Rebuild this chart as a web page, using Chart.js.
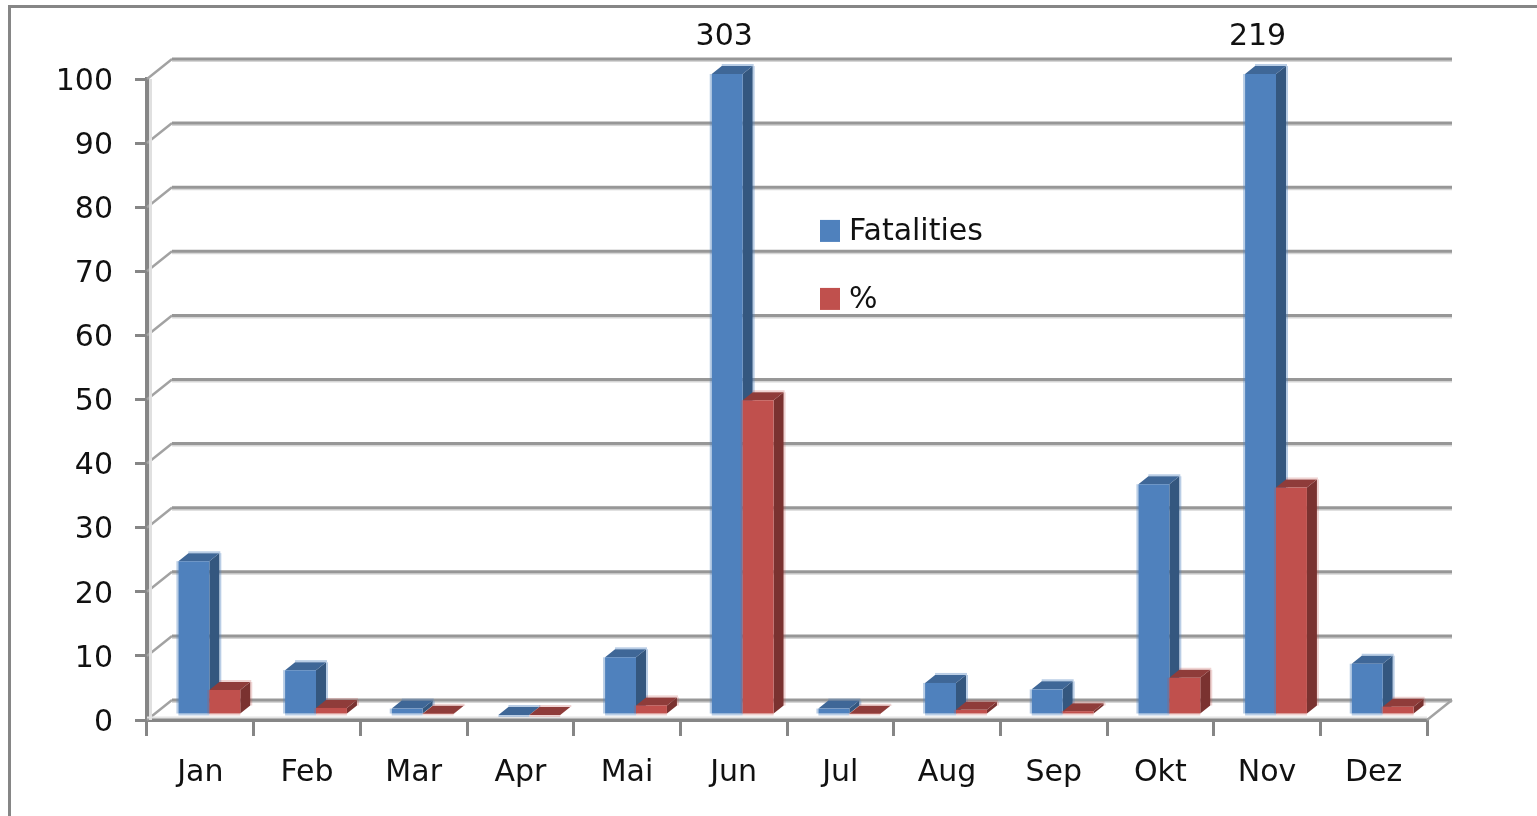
<!DOCTYPE html>
<html>
<head>
<meta charset="utf-8">
<title>Fatalities</title>
<script src="https://cdn.jsdelivr.net/npm/chart.js@4"></script>
<style>
    html, body { margin: 0; background: #fff; overflow: hidden; }
    #wrap { position: relative; width: 1537px; height: 816px; }
    #frame { position: absolute; left: 8px; top: 5px; right: 0; bottom: 0; border-left: 3px solid #868686; border-top: 3px solid #868686; }
    canvas { position: absolute; left: 0; top: 0; }
</style>
</head>
<body>
<div id="wrap">
    <div id="frame"></div>
    <canvas id="chart" width="1537" height="816"></canvas>
</div>
<script>
const months = ["Jan", "Feb", "Mar", "Apr", "Mai", "Jun", "Jul", "Aug", "Sep", "Okt", "Nov", "Dez"];
const fatalities = [24, 7, 1, 0, 9, 303, 1, 5, 4, 36, 219, 8];
const percent = [3.9, 1.1, 0.2, 0, 1.5, 49.1, 0.2, 0.8, 0.6, 5.8, 35.5, 1.3];
const axisMax = 100;
const axisStep = 10;

const FONT = "DejaVu Sans";
const FONT_SIZE = 30;
const AXIS_GREY = "#868686";

// fake excel 3d look: back wall offset, bars sit a bit inside the floor
const WALL = { x: 25, y: -20 };
const BAR_PLANE = { x: 9, y: -5 };
const BAR_DEPTH = { x: 10, y: -8 };

const palette = [
    { front: "#4f81bd", top: "#3f6797", side: "#34577f", halo: "rgba(79,129,189,0.4)" },
    { front: "#c0504d", top: "#8f3c3a", side: "#7a3230", halo: "rgba(192,80,77,0.25)" }
];

function segment(ctx, x0, y0, x1, y1, color, width) {
    ctx.strokeStyle = color;
    ctx.lineWidth = width;
    ctx.beginPath();
    ctx.moveTo(x0, y0);
    ctx.lineTo(x1, y1);
    ctx.stroke();
}

function face(ctx, points, color) {
    ctx.fillStyle = color;
    ctx.beginPath();
    points.forEach(([x, y], i) => (i ? ctx.lineTo(x, y) : ctx.moveTo(x, y)));
    ctx.closePath();
    ctx.fill();
}

function drawDepth(chart, meta, colors) {
    const { ctx, chartArea } = chart;
    meta.data.forEach(bar => {
        const left = bar.x - bar.width / 2;
        const right = bar.x + bar.width / 2;
        const top = Math.max(bar.y, chartArea.top);
        const base = bar.base;
        const dx = BAR_DEPTH.x;
        const dy = BAR_DEPTH.y;
        face(ctx, [[right, top], [right + dx, top + dy], [right + dx, base + dy], [right, base]], colors.side);
        face(ctx, [[left, top], [right, top], [right + dx, top + dy], [left + dx, top + dy]], colors.top);
        // soft edges, the original is a blurry upscale
        segment(ctx, right + dx + 1, top + dy, right + dx + 1, base + dy, colors.halo, 2);
        segment(ctx, left + dx, top + dy - 1, right + dx + 1, top + dy - 1, colors.halo, 2);
        segment(ctx, left - 1, top, left - 1, base, colors.halo, 2);
        segment(ctx, left, base + 1, right, base + 1, colors.halo, 2);
    });
}

const fake3d = {
    id: "fake3d",
    afterLayout(chart) {
        // DejaVu sits high on a middle baseline
        chart.scales.y.getLabelItems().forEach(item => { item.options.translation[1] += 3; });
    },
    beforeDatasetsDraw(chart) {
        const { ctx, chartArea, scales } = chart;
        ctx.save();
        // wall lines and the little diagonals down to the front axis
        for (let v = 0; v <= axisMax; v += axisStep) {
            const y = scales.y.getPixelForValue(v);
            segment(ctx, chartArea.left, y, chartArea.left + WALL.x, y + WALL.y, "#a2a2a2", 2.5);
            segment(ctx, chartArea.left + WALL.x, y + WALL.y + 2, chartArea.right + WALL.x, y + WALL.y + 2, "#d6d6d6", 2);
            segment(ctx, chartArea.left + WALL.x, y + WALL.y, chartArea.right + WALL.x, y + WALL.y, "#979797", 3);
        }
        const bottom = chartArea.bottom;
        segment(ctx, chartArea.right, bottom, chartArea.right + WALL.x, bottom + WALL.y, "#a2a2a2", 2.5);
        segment(ctx, chartArea.left + 3.5, chartArea.top, chartArea.left + 3.5, bottom, "#e0e0e0", 3);
        segment(ctx, chartArea.left, bottom - 2.5, chartArea.right, bottom - 2.5, "#e4e4e4", 2);
        ctx.restore();

        ctx.save();
        ctx.translate(BAR_PLANE.x, BAR_PLANE.y);
    },
    beforeDatasetDraw(chart, args) {
        // chart.js paints the left bar last, here the right one has to cover it
        if (args.index === 1) return false;
        drawDepth(chart, args.meta, palette[0]);
    },
    afterDatasetDraw(chart, args) {
        if (args.index !== 0) return;
        const meta = chart.getDatasetMeta(1);
        drawDepth(chart, meta, palette[1]);
        meta.controller.draw();
    },
    afterDatasetsDraw(chart) {
        const { ctx, chartArea, scales } = chart;
        ctx.restore();
        ctx.save();
        ctx.font = `${FONT_SIZE}px "${FONT}"`;
        ctx.fillStyle = "#111";

        // bars that run off the axis get their real value on top
        ctx.textAlign = "center";
        ctx.textBaseline = "middle";
        chart.getDatasetMeta(0).data.forEach((bar, i) => {
            if (fatalities[i] > scales.y.max) {
                ctx.fillText(String(fatalities[i]), bar.x + BAR_PLANE.x - 3, chartArea.top - 42);
            }
        });

        // legend floats over the plot in the original
        ctx.textAlign = "left";
        chart.data.datasets.forEach((dataset, i) => {
            const rowY = scales.y.getPixelForValue(76.3) + i * 68;
            ctx.fillStyle = dataset.backgroundColor;
            ctx.fillRect(820, rowY - 11, 20, 22);
            ctx.fillStyle = "#111";
            ctx.fillText(dataset.label, 849, rowY + 1);
        });
        ctx.restore();
    }
};

const gridOptions = { drawOnChartArea: false, color: AXIS_GREY, lineWidth: 3 };
const tickFont = { family: FONT, size: FONT_SIZE };

new Chart(document.getElementById("chart"), {
    type: "bar",
    plugins: [fake3d],
    data: {
        labels: months,
        datasets: [
            { label: "Fatalities", data: fatalities, backgroundColor: palette[0].front },
            { label: "%", data: percent, backgroundColor: palette[1].front }
        ]
    },
    options: {
        responsive: false,
        animation: false,
        layout: { padding: { top: 79, right: 110 } },
        barPercentage: 1,
        categoryPercentage: 0.58,
        plugins: { legend: { display: false }, tooltip: { enabled: false } },
        scales: {
            x: {
                grid: { ...gridOptions, tickLength: 16 },
                border: { color: AXIS_GREY, width: 4 },
                ticks: { color: "#111", font: tickFont, padding: 19, maxRotation: 0 },
                afterFit(scale) { scale.height = 96; }
            },
            y: {
                min: 0,
                max: axisMax,
                grid: { ...gridOptions, tickLength: 12 },
                border: { color: AXIS_GREY, width: 4 },
                ticks: { stepSize: axisStep, color: "#111", font: tickFont, padding: 22 },
                afterFit(scale) { scale.width = 147; }
            }
        }
    }
});
</script>
</body>
</html>
